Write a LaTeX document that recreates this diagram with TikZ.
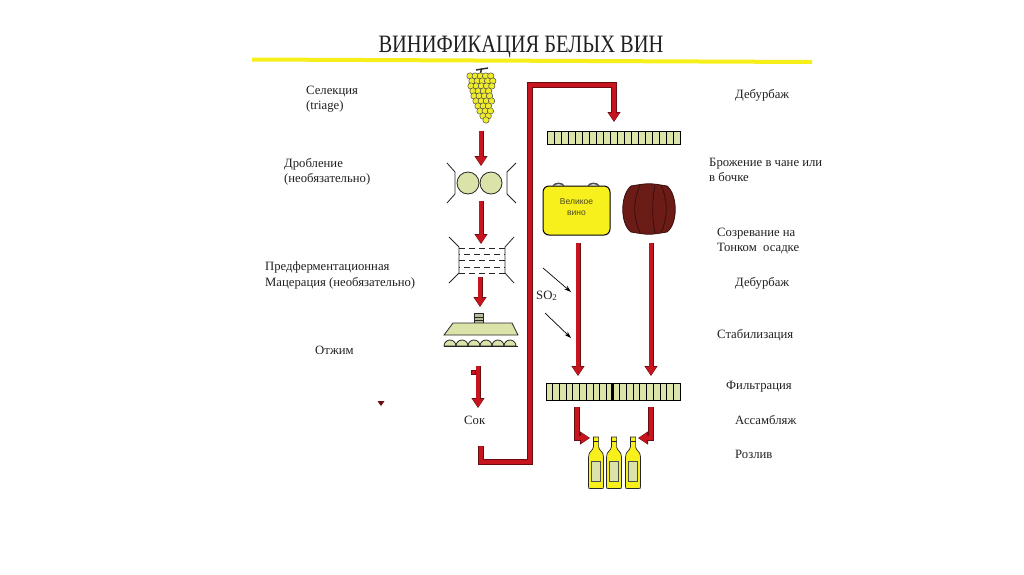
\documentclass[tikz,border=0pt]{standalone}
\usepackage{fontspec}
\setmainfont{Liberation Serif}
\setsansfont{Liberation Sans}
\usetikzlibrary{arrows.meta}
\definecolor{arrred}{HTML}{C8141E}
\definecolor{arrdark}{HTML}{6A0C10}
\definecolor{pale}{HTML}{DCE3A8}
\definecolor{grapey}{HTML}{F0EC2A}
\definecolor{vaty}{HTML}{F7F01C}
\definecolor{barrel}{HTML}{6B1C17}
\definecolor{barreld}{HTML}{3A0E0B}
\definecolor{txt}{HTML}{202020}
\definecolor{titleline}{HTML}{F6EF1A}
\definecolor{vattext}{HTML}{4A4A20}
\begin{document}
\begin{tikzpicture}[x=1pt,y=-1pt,
  lbl/.style={anchor=base west, inner sep=0pt, font=\fontsize{12.7}{14}\selectfont, text=txt},
  redarr/.style={draw=arrred, line width=3.4pt, -{Triangle[width=10pt,length=8pt]}, shorten >=0.9pt,
    preaction={draw=arrdark, line width=5pt, shorten >=0pt, -{Triangle[width=12.5pt,length=10pt]}}},
  redpipe/.style={draw=arrred, line width=3.6pt, line join=miter, -{Triangle[width=10pt,length=8pt]}, shorten >=0.9pt,
    preaction={draw=arrdark, line width=5.4pt, line join=miter, shorten >=0pt, -{Triangle[width=12.5pt,length=10pt]}}},
  smallarr/.style={draw=black, line width=0.7pt, -{Stealth[length=7pt,width=4.5pt]}},
  outline/.style={draw=black!85, line width=0.8pt},
  berry/.style={fill=grapey, draw=black!70, line width=0.5pt},
  dashrow/.style={draw=black!85, line width=0.8pt, dash pattern=on 6pt off 4pt}
]
\useasboundingbox (0,0) rectangle (1024,574);
\fill[white] (0,0) rectangle (1024,574);

% title and yellow rule
\node[inner sep=0pt, anchor=base, text=txt] (title) at (521,52)
  {\scalebox{0.82}[1]{\fontsize{25}{25}\selectfont ВИНИФИКАЦИЯ БЕЛЫХ ВИН}};
\draw[titleline, line width=4pt] (252,59.5) -- (812,62);

% left labels
\node[lbl] (sel1) at (306,94) {Селекция};
\node[lbl] (sel2) at (306,109) {(triage)};
\node[lbl] (dro1) at (284,167) {Дробление};
\node[lbl] (dro2) at (284,182) {(необязательно)};
\node[lbl] (mac1) at (265,270) {Предферментационная};
\node[lbl] (mac2) at (265,286) {Мацерация (необязательно)};
\node[lbl] (otj) at (315,354) {Отжим};
\node[lbl] (sok) at (464,424) {Сок};
\fill[arrdark] (377.5,401) -- (384.5,401) -- (381,406) -- cycle;

% right labels
\node[lbl] (deb1) at (735,98) {Дебурбаж};
\node[lbl] (bro1) at (709,166) {Брожение в чане или};
\node[lbl] (bro2) at (709,181) {в бочке};
\node[lbl] (soz1) at (717,236) {Созревание на};
\node[lbl] (soz2) at (717,251) {Тонком\ \ осадке};
\node[lbl] (deb2) at (735,286) {Дебурбаж};
\node[lbl] (stab) at (717,338) {Стабилизация};
\node[lbl] (filt) at (726,389) {Фильтрация};
\node[lbl] (ass) at (735,424) {Ассамбляж};
\node[lbl] (roz) at (735,458) {Розлив};
\node[lbl] (so2) at (536,299) {SO\textsubscript{2}};

% grape cluster
\draw[black!85, line width=1.4pt] (476,70) -- (488,68);
\draw[black!85, line width=1.4pt] (480,76) -- (481.5,68.5);
\foreach \yy/\xs/\n in {76/470/5, 81/472/5, 86/471/5, 91/473/4, 96/474/4,
  101/476/4, 106/478/3, 111/480/3, 116/483/2, 120/486/1} {
  \foreach \k in {1,...,\n} {
    \filldraw[berry] ({\xs+(\k-1)*5.2},\yy) circle (3.2);
  }
}

% crusher
\filldraw[pale, outline] (468,183) circle (11);
\filldraw[pale, outline] (491,183) circle (11);
\draw[outline] (447,163) -- (455,172) -- (455,194) -- (447,203);
\draw[outline] (516,163) -- (507,172) -- (507,194) -- (516,203);

% macerator
\draw[outline] (449,237) -- (459,247) -- (459,273) -- (449,283);
\draw[outline] (514,237) -- (505,247) -- (505,273) -- (514,283);
\draw[dashrow] (459,248) -- (505,248);
\draw[dashrow, dash phase=5pt] (459,254) -- (505,254);
\draw[dashrow] (459,260.5) -- (505,260.5);
\draw[dashrow, dash phase=5pt] (459,267) -- (505,267);
\draw[dashrow] (459,273) -- (505,273);

% press
\filldraw[fill=pale!60!gray, outline] (474,313) rectangle (483,323);
\draw[black!85, line width=0.6pt] (474,317) -- (483,317) (474,320) -- (483,320);
\filldraw[fill=pale, outline] (453,323) -- (512,323) -- (518,335) -- (444,335) -- cycle;
\foreach \c in {450,462,...,510} {
  \filldraw[fill=pale, outline] (\c-6,346) arc[start angle=180, end angle=360, radius=6] -- cycle;
}
\draw[outline] (444,346) -- (518,346);

% debourbage filter (top)
\filldraw[fill=pale, draw=black, line width=0.9pt] (547,131) rectangle (680,144);
\foreach \i in {1,...,18} { \draw[black, line width=0.7pt] ({547+\i*7},131) -- ++(0,13); }

% vat
\filldraw[fill=vaty, draw=black, line width=1pt, rounded corners=6pt] (543,186) rectangle (610,235);
\draw[black!70, line width=1.5pt] (553,186) .. controls (555,182.5) and (562,182.5) .. (564,186);
\draw[black!70, line width=1.5pt] (588,186) .. controls (590,182.5) and (597,182.5) .. (599,186);
\node[inner sep=0pt, text=vattext, font=\sffamily\fontsize{8.5}{10}\selectfont] (vat1) at (576.5,202) {Великое};
\node[inner sep=0pt, text=vattext, font=\sffamily\fontsize{8.5}{10}\selectfont] (vat2) at (576.5,213) {вино};

% barrel
\filldraw[fill=barrel, draw=barreld, line width=0.8pt]
  (631,186) .. controls (649,183) .. (667,186)
  .. controls (678,195) and (678,224) .. (667,232)
  .. controls (649,235) .. (631,232)
  .. controls (620,224) and (620,195) .. (631,186) -- cycle;
\draw[barreld, line width=0.8pt] (640,185.5) .. controls (633,200) and (633,218) .. (640,232.5);
\draw[barreld, line width=0.8pt] (655,185) .. controls (652,200) and (652,218) .. (655,233);
\draw[barreld, line width=0.8pt] (661,185.5) .. controls (668,200) and (668,218) .. (661,232.5);

% filtration filter (bottom)
\filldraw[fill=pale, draw=black, line width=0.9pt] (546,383) rectangle (680,400);
\foreach \i in {1,...,19} { \draw[black, line width=0.7pt] ({546+\i*6.7},383) -- ++(0,17); }
\draw[black, line width=2pt] (612,383) -- (612,400);

% bottles
\foreach \cx in {596,614,633} {
  \filldraw[fill=vaty, draw=black!85, line width=0.7pt]
    (\cx-2.6,437) -- (\cx+2.6,437) -- (\cx+2.6,447)
    .. controls (\cx+3,451) and (\cx+7.5,451) .. (\cx+7.5,457)
    -- (\cx+7.5,486) .. controls (\cx+7.5,488.5) .. (\cx+5.5,488.5)
    -- (\cx-5.5,488.5) .. controls (\cx-7.5,488.5) .. (\cx-7.5,486)
    -- (\cx-7.5,457) .. controls (\cx-7.5,451) and (\cx-3,451) .. (\cx-2.6,447) -- cycle;
  \draw[black!85, line width=0.6pt] (\cx-2.6,441) -- (\cx+2.6,441);
  \filldraw[fill=pale, draw=black!70, line width=0.6pt] (\cx-4.5,461) rectangle (\cx+4.5,481);
}

% coordinates for connectors
\coordinate (a1s) at (481,131);  \coordinate (a1e) at (481,166);
\coordinate (a2s) at (481,201);  \coordinate (a2e) at (481,244);
\coordinate (a3s) at (480,277);  \coordinate (a3e) at (480,307);
\coordinate (a4s) at (478,366);  \coordinate (a4e) at (478,408);
\coordinate (p1) at (481,446);  \coordinate (p2) at (481,462);
\coordinate (p3) at (530,462);  \coordinate (p4) at (530,85);
\coordinate (p5) at (614,85);   \coordinate (p6) at (614,122);
\coordinate (l1s) at (578,243); \coordinate (l1e) at (578,376);
\coordinate (l2s) at (651,243); \coordinate (l2e) at (651,376);
\coordinate (b1s) at (577,407); \coordinate (b1c) at (577,438); \coordinate (b1e) at (590,438);
\coordinate (b2s) at (651,407); \coordinate (b2c) at (651,438); \coordinate (b2e) at (638,438);
\coordinate (s1s) at (543,268); \coordinate (s1e) at (571,292);
\coordinate (s2s) at (545,313); \coordinate (s2e) at (571,338);

% red arrows
\draw[redarr] (a1s) -- (a1e);
\draw[redarr] (a2s) -- (a2e);
\draw[redarr] (a3s) -- (a3e);
\draw[redarr] (a4s) -- (a4e);
\filldraw[fill=arrred, draw=arrdark, line width=0.7pt] (471.5,370.5) rectangle (475.8,374.5);
\draw[redpipe] (p1) -- (p2) -- (p3) -- (p4) -- (p5) -- (p6);
\draw[redarr] (l1s) -- (l1e);
\draw[redarr] (l2s) -- (l2e);
\draw[redpipe] (b1s) -- (b1c) -- (b1e);
\draw[redpipe] (b2s) -- (b2c) -- (b2e);

% SO2 arrows
\draw[smallarr] (s1s) -- (s1e);
\draw[smallarr] (s2s) -- (s2e);
\end{tikzpicture}
\end{document}
